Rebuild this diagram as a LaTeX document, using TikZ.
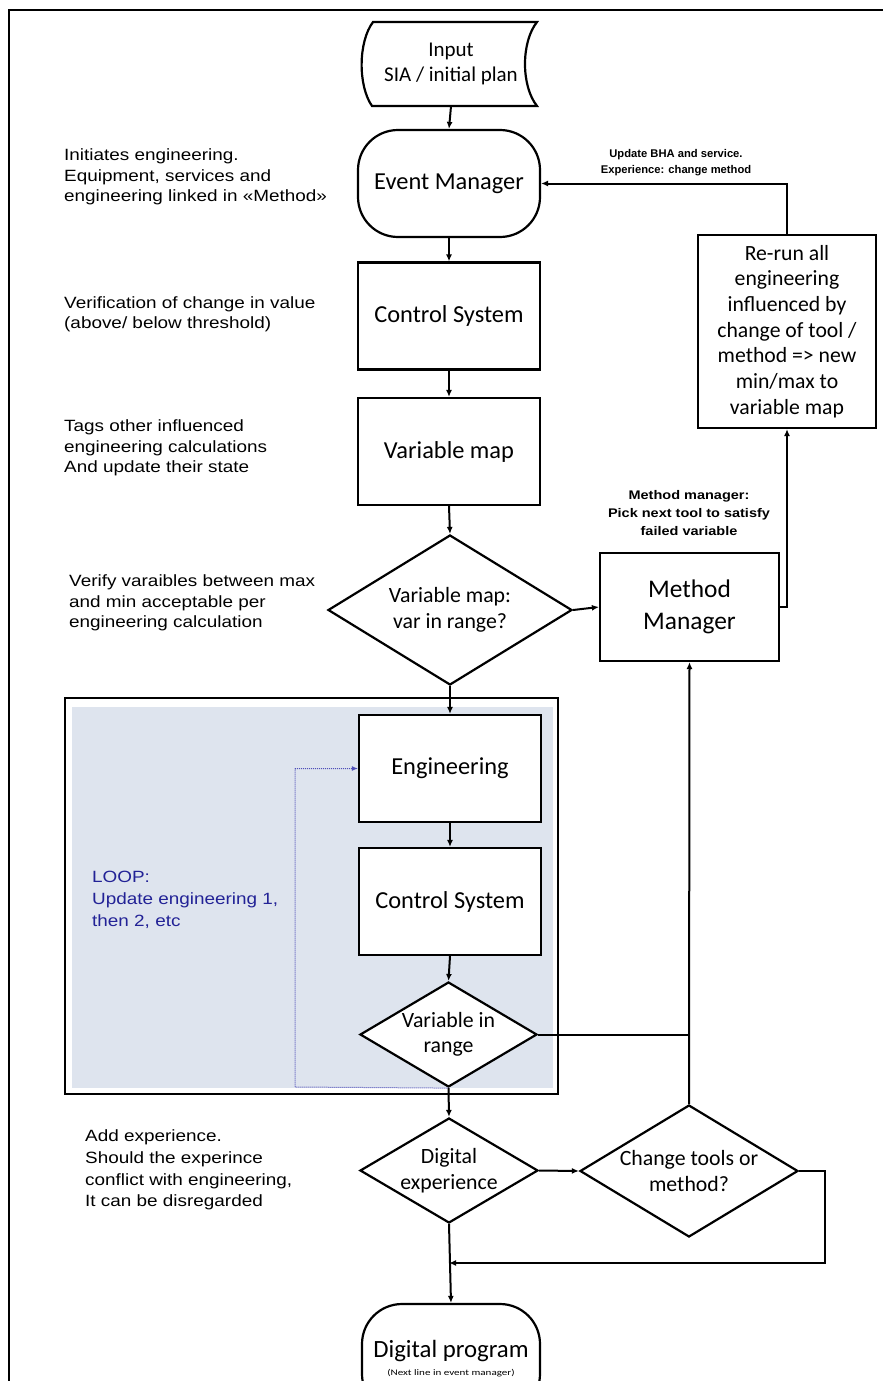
\documentclass[tikz,border=0pt]{standalone}
\usepackage{fontspec}
\setmainfont{Carlito}
\newfontfamily\arial{Liberation Sans}
\newfontfamily\arialwide[FakeStretch=1.16]{Liberation Sans}
\newfontfamily\carlitowide[FakeStretch=1.3]{Carlito}
\usetikzlibrary{shapes.geometric,arrows.meta}
\definecolor{loopfill}{RGB}{222,228,238}
\definecolor{loopblue}{RGB}{34,34,150}
\definecolor{dotblue}{RGB}{80,80,185}
\begin{document}
\begin{tikzpicture}[x=1pt,y=-1pt,
  conn/.style={line width=2pt, draw=black},
  arr/.style={conn, -{Latex[length=7pt,width=6pt]}},
  procbox/.style={draw, fill=white, line width=2.2pt, minimum width=182pt, minimum height=107pt,
    align=center, inner sep=0pt, font=\fontsize{24.4}{28}\selectfont},
  termbox/.style={procbox, rounded corners=40pt},
  dia/.style={diamond, draw, fill=white, line width=2.2pt, inner sep=0pt},
  diatext/.style={align=center, inner sep=0pt, font=\fontsize{21.8}{25.5}\selectfont},
  note/.style={align=left, inner sep=0pt, anchor=west, font=\arialwide\fontsize{16.3}{20.3}\selectfont},
  smallnote/.style={align=center, inner sep=0pt, font=\arial\bfseries\fontsize{11.2}{16}\selectfont},
]
\useasboundingbox (0,0) rectangle (883,1381);
\begin{scope}
\clip (0,0) rectangle (883,1381);

% page frame
\draw[line width=2.6pt] (9,1381) -- (9,10) -- (883,10);

% loop container
\node[draw, line width=2.4pt, fill=white, minimum width=493pt, minimum height=396pt, inner sep=0pt]
  (loop) at (311.5,896) {};
\node[fill=loopfill, minimum width=481pt, minimum height=381pt, inner sep=0pt]
  (loopbg) at (312.5,897.5) {};

% input (stored data symbol)
\draw[line width=2.2pt, fill=white] (373,22) -- (537,22)
  .. controls (521,42) and (521,86) .. (537,106) -- (372,106)
  .. controls (358,86) and (358,42) .. (373,22) -- cycle;
\node[align=center, inner sep=0pt, minimum width=164pt, minimum height=84pt,
  font=\fontsize{21}{25}\selectfont] (input) at (451,64) {Input\\SIA / initial plan};

% main column
\node[termbox] (em) at (449,183.5) {Event Manager};
\node[procbox] (cs1) at (449,316) {Control System};
\node[procbox] (vmap) at (449,451.5) {Variable map};
\node[dia, minimum width=244pt, minimum height=150pt] (vmd) at (450,610) {};
\node[diatext] at (vmd.center) {Variable map:\\var in range?};

\node[procbox, minimum width=179pt, minimum height=108pt, font=\fontsize{25.4}{32}\selectfont]
  (mm) at (689.5,607) {Method\\Manager};
\node[procbox, minimum width=178pt, minimum height=193pt, font=\fontsize{21.7}{25.7}\selectfont]
  (rerun) at (787,331.5) {Re-run all\\engineering\\influenced by\\change of tool /\\method => new\\min/max to\\variable map};

\node[procbox] (eng) at (450,768.5) {Engineering};
\node[procbox] (cs2) at (450,901.5) {Control System};
\node[dia, minimum width=177pt, minimum height=105pt] (vir) at (448.5,1034.5) {};
\node[diatext] at (vir.center) {Variable in\\range};

\node[dia, minimum width=178pt, minimum height=105pt] (de) at (449,1170.5) {};
\node[diatext] at (de.center) {Digital\\experience};
\node[dia, minimum width=218pt, minimum height=132pt] (cto) at (689,1171) {};
\node[diatext] at (cto.center) {Change tools or\\method?};

\node[termbox, minimum width=178pt, minimum height=110pt] (dp) at (451,1359) {};
\node[inner sep=0pt, font=\fontsize{24.8}{28}\selectfont] (dpt) at (451,1351) {Digital program};
\node[inner sep=0pt, font=\carlitowide\fontsize{8.5}{9}\selectfont] (dps) at (451,1373) {(Next line in event manager)};

% connectors
\draw[arr] (input.south) -- (em.north);
\draw[arr] (em.south) -- (cs1.north);
\draw[arr] (cs1.south) -- (vmap.north);
\draw[arr] (vmap.south) -- (vmd.north);
\draw[arr] (vmd.east) -- (mm.west);
\draw[arr] (mm.east) -| (rerun.south);
\draw[arr] (rerun.north) |- (em.east);
\draw[arr] (vmd.south) -- (eng.north);
\draw[arr] (eng.south) -- (cs2.north);
\draw[arr] (cs2.south) -- (vir.north);
\coordinate (lp) at (295,1087);
\draw[dotblue, densely dotted, line width=1pt, -{Latex[length=6pt,width=5pt]}]
  (vir.south) -- (lp) |- (eng.west);
\draw[arr] (vir.south) -- (de.north);
\draw[conn] (vir.east) -- (cto.north |- vir.east);
\draw[arr] (cto.north) -- (mm.south);
\draw[arr] (de.east) -- (cto.west);
\coordinate (rt) at (825,1263);
\coordinate (jn) at (449,1263);
\draw[arr] (cto.east) -| (rt) -- (jn);
\draw[arr] (de.south) -- (dp.north);

% annotations
\node[note] (n1) at (64,177) {Initiates engineering.\\Equipment, services and\\engineering linked in «Method»};
\node[note] (n2) at (64,314) {Verification of change in value\\(above/ below threshold)};
\node[note] (n3) at (64,448) {Tags other influenced\\engineering calculations\\And update their state};
\node[note] (n4) at (69,603) {Verify varaibles between max\\and min acceptable per\\engineering calculation};
\node[note, font=\arialwide\fontsize{16.3}{21.7}\selectfont] (n5) at (85,1170)
  {Add experience.\\Should the experince\\conflict with engineering,\\It can be disregarded};
\node[note, text=loopblue, font=\arialwide\fontsize{16.3}{22}\selectfont] (loopnote) at (92,900)
  {LOOP:\\Update engineering 1,\\then 2, etc};
\node[smallnote] (upd) at (676,163) {Update BHA and service.\\Experience: change method};
\node[smallnote, font=\arialwide\bfseries\fontsize{12.5}{18}\selectfont] (mmnote) at (689,513)
  {Method manager:\\Pick next tool to satisfy\\failed variable};
\end{scope}
\end{tikzpicture}
\end{document}
